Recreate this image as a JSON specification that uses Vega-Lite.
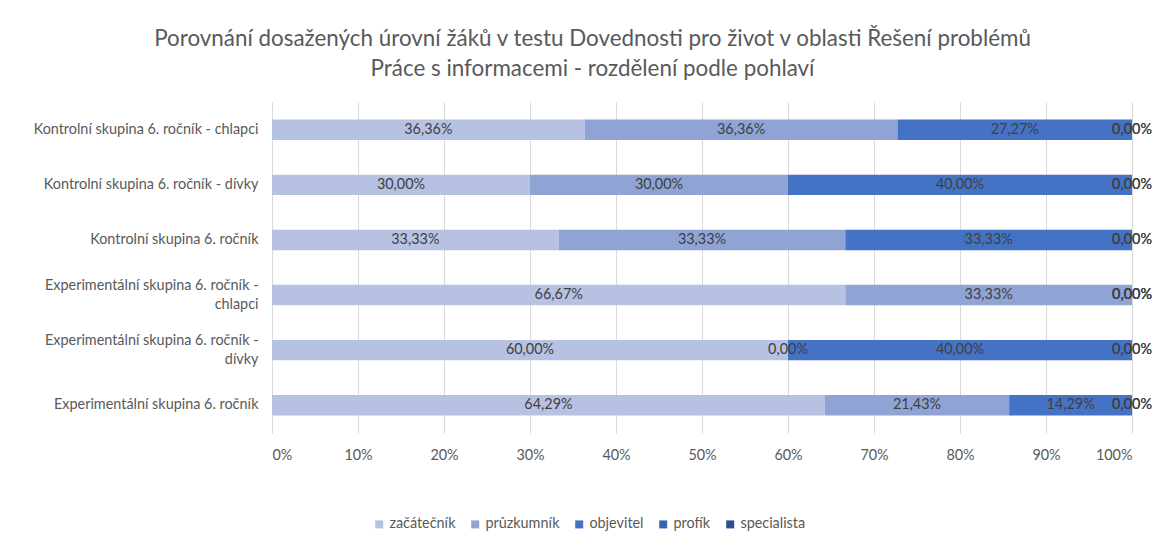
{
  "$schema": "https://vega.github.io/schema/vega-lite/v6.json",
  "width": 860,
  "height": 331,
  "autosize": {"type": "none"},
  "padding": {"left": 272, "top": 102, "right": 23, "bottom": 109},
  "background": "white",
  "title": {
    "text": ["Porovnání dosažených úrovní žáků v testu Dovednosti pro život v oblasti Řešení problémů", "Práce s informacemi - rozdělení podle pohlaví"],
    "anchor": "middle",
    "frame": "bounds",
    "font": "Lato",
    "fontSize": 22.4,
    "fontWeight": "normal",
    "color": "#595959",
    "lineHeight": 30,
    "offset": 22
  },
  "data": {
    "values": [
      {"skupina": "Kontrolní skupina 6. ročník - chlapci", "uroven": "začátečník", "poradi": 1, "podil": 0.36364},
      {"skupina": "Kontrolní skupina 6. ročník - chlapci", "uroven": "průzkumník", "poradi": 2, "podil": 0.36364},
      {"skupina": "Kontrolní skupina 6. ročník - chlapci", "uroven": "objevitel", "poradi": 3, "podil": 0.27273},
      {"skupina": "Kontrolní skupina 6. ročník - chlapci", "uroven": "profík", "poradi": 4, "podil": 0},
      {"skupina": "Kontrolní skupina 6. ročník - chlapci", "uroven": "specialista", "poradi": 5, "podil": 0},
      {"skupina": "Kontrolní skupina 6. ročník - dívky", "uroven": "začátečník", "poradi": 1, "podil": 0.30},
      {"skupina": "Kontrolní skupina 6. ročník - dívky", "uroven": "průzkumník", "poradi": 2, "podil": 0.30},
      {"skupina": "Kontrolní skupina 6. ročník - dívky", "uroven": "objevitel", "poradi": 3, "podil": 0.40},
      {"skupina": "Kontrolní skupina 6. ročník - dívky", "uroven": "profík", "poradi": 4, "podil": 0},
      {"skupina": "Kontrolní skupina 6. ročník - dívky", "uroven": "specialista", "poradi": 5, "podil": 0},
      {"skupina": "Kontrolní skupina 6. ročník", "uroven": "začátečník", "poradi": 1, "podil": 0.33333},
      {"skupina": "Kontrolní skupina 6. ročník", "uroven": "průzkumník", "poradi": 2, "podil": 0.33333},
      {"skupina": "Kontrolní skupina 6. ročník", "uroven": "objevitel", "poradi": 3, "podil": 0.33334},
      {"skupina": "Kontrolní skupina 6. ročník", "uroven": "profík", "poradi": 4, "podil": 0},
      {"skupina": "Kontrolní skupina 6. ročník", "uroven": "specialista", "poradi": 5, "podil": 0},
      {"skupina": "Experimentální skupina 6. ročník - chlapci", "uroven": "začátečník", "poradi": 1, "podil": 0.66667},
      {"skupina": "Experimentální skupina 6. ročník - chlapci", "uroven": "průzkumník", "poradi": 2, "podil": 0.33333},
      {"skupina": "Experimentální skupina 6. ročník - chlapci", "uroven": "objevitel", "poradi": 3, "podil": 0},
      {"skupina": "Experimentální skupina 6. ročník - chlapci", "uroven": "profík", "poradi": 4, "podil": 0},
      {"skupina": "Experimentální skupina 6. ročník - chlapci", "uroven": "specialista", "poradi": 5, "podil": 0},
      {"skupina": "Experimentální skupina 6. ročník - dívky", "uroven": "začátečník", "poradi": 1, "podil": 0.60},
      {"skupina": "Experimentální skupina 6. ročník - dívky", "uroven": "průzkumník", "poradi": 2, "podil": 0},
      {"skupina": "Experimentální skupina 6. ročník - dívky", "uroven": "objevitel", "poradi": 3, "podil": 0.40},
      {"skupina": "Experimentální skupina 6. ročník - dívky", "uroven": "profík", "poradi": 4, "podil": 0},
      {"skupina": "Experimentální skupina 6. ročník - dívky", "uroven": "specialista", "poradi": 5, "podil": 0},
      {"skupina": "Experimentální skupina 6. ročník", "uroven": "začátečník", "poradi": 1, "podil": 0.64286},
      {"skupina": "Experimentální skupina 6. ročník", "uroven": "průzkumník", "poradi": 2, "podil": 0.21429},
      {"skupina": "Experimentální skupina 6. ročník", "uroven": "objevitel", "poradi": 3, "podil": 0.14285},
      {"skupina": "Experimentální skupina 6. ročník", "uroven": "profík", "poradi": 4, "podil": 0},
      {"skupina": "Experimentální skupina 6. ročník", "uroven": "specialista", "poradi": 5, "podil": 0}
    ]
  },
  "transform": [
    {"stack": "podil", "groupby": ["skupina"], "sort": [{"field": "poradi", "order": "ascending"}], "as": ["x0", "x1"]}
  ],
  "encoding": {
    "y": {
      "field": "skupina",
      "type": "nominal",
      "sort": null,
      "title": null,
      "scale": {"paddingInner": 0.63, "paddingOuter": 0.32},
      "axis": {
        "domain": false,
        "ticks": false,
        "grid": false,
        "labelFont": "Lato",
        "labelFontSize": 14.4,
        "labelColor": "#595959",
        "labelPadding": 14,
        "labelLimit": 400,
        "labelLineHeight": 19,
        "labelOffset": {"condition": {"test": "indexof(datum.label, ' - ') > 0 && indexof(datum.label, 'Experimentální') == 0", "value": -9}, "value": 0},
        "labelExpr": "datum.label == 'Experimentální skupina 6. ročník - chlapci' ? ['Experimentální skupina 6. ročník -', 'chlapci'] : datum.label == 'Experimentální skupina 6. ročník - dívky' ? ['Experimentální skupina 6. ročník -', 'dívky'] : datum.label"
      }
    }
  },
  "layer": [
    {
      "mark": {"type": "bar"},
      "encoding": {
        "x": {
          "field": "x0",
          "type": "quantitative",
          "title": null,
          "scale": {"domain": [0, 1], "nice": false},
          "axis": {
            "format": "%",
            "values": [0, 0.1, 0.2, 0.3, 0.4, 0.5, 0.6, 0.7, 0.8, 0.9, 1],
            "domain": false,
            "ticks": false,
            "grid": true,
            "gridColor": "#D9D9D9",
            "gridWidth": 1,
            "labelFont": "Lato",
            "labelFontSize": 14.4,
            "labelColor": "#595959",
            "labelPadding": 15
          }
        },
        "x2": {"field": "x1"},
        "color": {
          "field": "uroven",
          "type": "nominal",
          "sort": ["začátečník", "průzkumník", "objevitel", "profík", "specialista"],
          "scale": {
            "domain": ["začátečník", "průzkumník", "objevitel", "profík", "specialista"],
            "range": ["#B7C2E3", "#8FA3D5", "#4472C4", "#3A63B0", "#2E4F8F"]
          },
          "legend": {
            "title": null,
            "orient": "none",
            "direction": "horizontal",
            "legendX": 100,
            "legendY": 415,
            "symbolType": "square",
            "symbolSize": 64,
            "symbolStrokeWidth": 0,
            "labelFont": "Lato",
            "labelFontSize": 14.4,
            "labelColor": "#595959",
            "columnPadding": 12,
            "labelOffset": 3
          }
        }
      }
    },
    {
      "transform": [{"fold": ["x0", "x1"], "as": ["hrana", "pozice"]}],
      "mark": {"type": "text", "font": "Lato", "fontSize": 14.4, "color": "#404040"},
      "encoding": {
        "x": {"aggregate": "mean", "field": "pozice", "type": "quantitative"},
        "detail": {"field": "uroven", "type": "nominal"},
        "text": {"aggregate": "max", "field": "podil", "type": "quantitative", "format": ".2%"}
      }
    }
  ],
  "config": {
    "view": {"stroke": null},
    "locale": {
      "number": {"decimal": ",", "thousands": " ", "grouping": [3], "currency": ["", " Kč"], "percent": "%"}
    }
  }
}
